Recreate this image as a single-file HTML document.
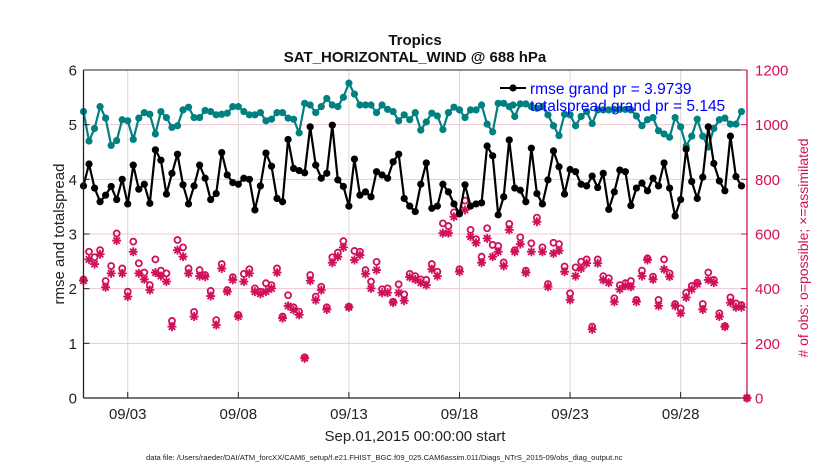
<!DOCTYPE html>
<html><head><meta charset="utf-8"><style>
body{margin:0;background:#fff;}
svg text{font-family:"Liberation Sans",Arial,sans-serif;}
</style></head><body>
<svg id="chart" width="830" height="470" viewBox="0 0 830 470" xmlns="http://www.w3.org/2000/svg">
<rect x="0" y="0" width="830" height="470" fill="#fff"/>
<g id="grid"></g>
<g id="obs"></g>
<g id="lines"></g>
<g id="axes"></g>
</svg>
<script>
const rmse=[3.88,4.28,3.84,3.59,3.71,3.87,3.63,4.0,3.55,4.26,3.82,3.91,3.56,4.54,4.35,3.73,4.11,4.46,3.90,3.55,3.88,4.26,4.02,3.63,3.74,4.49,4.08,3.94,3.91,4.02,4.0,3.44,3.88,4.48,4.24,3.65,3.59,4.73,4.2,4.16,4.12,4.96,
4.26,4.02,4.11,4.99,3.99,3.87,3.51,4.37,3.71,3.77,3.68,4.14,4.08,4.02,4.32,4.46,3.65,3.51,3.41,3.91,4.30,3.47,3.51,3.91,3.77,3.55,3.37,3.90,3.51,3.55,3.57,4.61,4.43,3.35,3.68,4.72,3.84,3.80,3.59,
4.57,3.74,3.55,3.99,4.52,4.23,3.73,4.18,4.14,3.91,3.88,4.06,3.85,4.11,3.45,3.77,4.17,4.14,3.52,3.84,3.93,3.79,4.02,3.88,4.30,3.84,3.33,3.63,4.55,3.96,3.65,4.04,4.96,4.29,3.97,3.79,4.79,4.05,3.88];
const spread=[5.24,4.70,4.93,5.33,5.12,4.62,4.71,5.09,5.07,4.73,5.12,5.22,5.19,4.83,5.24,5.13,4.95,4.98,5.27,5.32,5.13,5.13,5.26,5.24,5.18,5.19,5.21,5.33,5.33,5.24,5.18,5.18,5.22,5.07,5.10,5.22,5.22,5.12,5.10,4.85,5.39,5.36,
5.22,5.33,5.48,5.36,5.33,5.50,5.76,5.56,5.36,5.36,5.36,5.22,5.36,5.28,5.24,5.07,5.18,5.09,5.22,4.90,5.05,5.21,5.16,4.91,5.22,5.32,5.27,5.13,5.27,5.27,5.36,5.01,4.87,5.39,5.39,5.33,5.15,5.38,5.38,
5.33,5.30,5.33,5.18,4.98,4.80,5.19,5.18,4.98,5.15,5.24,5.02,5.27,5.27,5.27,5.28,5.28,5.28,5.27,5.16,4.98,5.09,5.13,4.89,4.83,4.77,5.13,4.96,4.61,4.79,5.10,4.79,4.59,4.93,5.09,5.12,5.01,5.01,5.24];
const assimilated=[429,507,490,526,405,456,576,456,371,535,456,434,395,459,446,426,261,541,517,456,298,446,444,373,267,474,389,432,298,426,456,389,381,389,401,459,292,337,322,304,145,429,
358,395,324,495,517,551,332,505,523,454,401,468,385,385,349,385,356,442,434,422,413,471,446,603,603,663,462,688,590,568,495,584,517,535,483,615,535,563,458,
535,645,535,407,529,539,462,359,446,474,493,251,493,432,422,352,398,410,407,352,446,505,434,337,471,444,337,310,368,398,417,324,432,422,298,261,349,332,332,0];
const possible=[434,535,515,541,428,483,602,474,389,572,493,459,413,507,466,456,282,578,551,474,315,468,450,392,285,490,395,442,304,454,471,401,389,420,413,474,298,376,332,316,149,450,
371,407,332,515,532,574,334,538,535,468,426,498,398,401,352,416,379,454,446,434,432,490,462,639,629,679,471,722,615,581,517,621,560,556,496,637,541,588,466,
566,660,551,417,568,563,481,383,478,499,507,261,507,446,438,365,413,420,428,359,466,511,444,359,507,456,344,328,385,410,422,344,459,432,310,263,368,346,340,0];
const dateTicks=["09/03","09/08","09/13","09/18","09/23","09/28"];
const dateTickDays=[2,7,12,17,22,27];
const leftTicks=[0,1,2,3,4,5,6];
const rightTicks=[0,200,400,600,800,1000,1200];

const X0=83.5,X1=747,Y0=398,Y1=70;
const xs=d=>X0+(X1-X0)*d/30;
const yl=v=>Y0-(Y0-Y1)*v/6;
const yr=n=>Y0-(Y0-Y1)*n/1200;
const dayOf=i=>i*0.25;
const NS="http://www.w3.org/2000/svg";
function mk(parent,tag,attrs,text){const e=document.createElementNS(NS,tag);for(const k in attrs)e.setAttribute(k,attrs[k]);if(text!==undefined)e.textContent=text;parent.appendChild(e);return e;}
const grid=document.getElementById('grid'),obs=document.getElementById('obs'),lines=document.getElementById('lines'),axes=document.getElementById('axes');
const MAG="#d0105a";

rightTicks.forEach(t=>{if(t>0&&t<1200){const l=mk(grid,'line',{x1:X0,x2:X1,y1:yr(t),y2:yr(t),stroke:"#f3c6d6","stroke-width":1});

}});
dateTickDays.forEach(d=>{const l=mk(grid,'line',{x1:xs(d),x2:xs(d),y1:Y1,y2:Y0,stroke:"#d8d8d8","stroke-width":1});

});

function star(g,cx,cy){const r=4.5;let d="";for(let k=0;k<4;k++){const a=k*Math.PI/4;d+=`M${cx-r*Math.cos(a)},${cy-r*Math.sin(a)}L${cx+r*Math.cos(a)},${cy+r*Math.sin(a)}`;}
return mk(g,'path',{d:d,stroke:MAG,"stroke-width":1.8,fill:"none"});}
possible.forEach((n,i)=>{const c=mk(obs,'circle',{cx:xs(dayOf(i)),cy:yr(n),r:3,fill:"none",stroke:MAG,"stroke-width":1.8});

});
assimilated.forEach((n,i)=>{const s=star(obs,xs(dayOf(i)),yr(n));

});

function series(arr,color,name){const pts=arr.map((v,i)=>xs(dayOf(i)).toFixed(1)+","+yl(v).toFixed(1)).join(" ");
const pl=mk(lines,'polyline',{points:pts,fill:"none",stroke:color,"stroke-width":2.2});


arr.forEach((v,i)=>{const c=mk(lines,'circle',{cx:xs(dayOf(i)),cy:yl(v),r:3.6,fill:color});

});}
series(spread,"#008080","totalspread");
series(rmse,"#000","rmse");

let a=mk(axes,'line',{x1:X0,x2:X1,y1:Y0,y2:Y0,stroke:"#222","stroke-width":1.3});

a=mk(axes,'line',{x1:X0,x2:X1,y1:Y1,y2:Y1,stroke:"#222","stroke-width":1});

a=mk(axes,'line',{x1:X0,x2:X0,y1:Y1,y2:Y0,stroke:"#222","stroke-width":1.3});

a=mk(axes,'line',{x1:X1,x2:X1,y1:Y1,y2:Y0,stroke:MAG,"stroke-width":1.3});

leftTicks.forEach(t=>{mk(axes,'line',{x1:X0,x2:X0+6,y1:yl(t),y2:yl(t),stroke:"#222"});
const tx=mk(axes,'text',{x:77,y:yl(t)+5.5,"text-anchor":"end","font-size":15,fill:"#222"},t);

});
rightTicks.forEach(t=>{mk(axes,'line',{x1:X1-6,x2:X1,y1:yr(t),y2:yr(t),stroke:MAG});
const tx=mk(axes,'text',{x:755,y:yr(t)+5.5,"font-size":15,fill:MAG},t);

});
dateTicks.forEach((lab,k)=>{const x=xs(dateTickDays[k]);mk(axes,'line',{x1:x,x2:x,y1:Y0,y2:Y0-6,stroke:"#222"});
const tx=mk(axes,'text',{x:x,y:419,"text-anchor":"middle","font-size":15,fill:"#222"},lab);

});
</script>
<svg style="position:absolute;left:0;top:0" width="830" height="470">
<text x="415" y="45" text-anchor="middle" font-size="15" font-weight="bold" fill="#111">Tropics</text>
<text x="415" y="62" text-anchor="middle" font-size="15" font-weight="bold" fill="#111">SAT_HORIZONTAL_WIND @ 688 hPa</text>
<text transform="translate(64,234) rotate(-90)" text-anchor="middle" font-size="15" fill="#222">rmse and totalspread</text>
<text transform="translate(808,248) rotate(-90)" text-anchor="middle" font-size="14" fill="#d0105a"># of obs: o=possible; ×=assimilated</text>
<text x="415" y="441" text-anchor="middle" font-size="15" fill="#222">Sep.01,2015 00:00:00 start</text>
<text x="146" y="460" font-size="7.6" fill="#222">data file: /Users/raeder/DAI/ATM_forcXX/CAM6_setup/f.e21.FHIST_BGC.f09_025.CAM6assim.011/Diags_NTrS_2015-09/obs_diag_output.nc</text>
<g>
<line x1="500" x2="526" y1="88" y2="88" stroke="#000" stroke-width="2"/><circle cx="513" cy="88" r="3.6" fill="#000"/>
<line x1="500" x2="526" y1="105" y2="105" stroke="#008080" stroke-width="2"/><circle cx="513" cy="105" r="3.6" fill="#008080"/>
<text x="530" y="94" font-size="15.5" fill="#0000ff">rmse grand pr = 3.9739</text>
<text x="530" y="111" font-size="15.5" fill="#0000ff">totalspread grand pr = 5.145</text>
</g>
</svg>
</body></html>
